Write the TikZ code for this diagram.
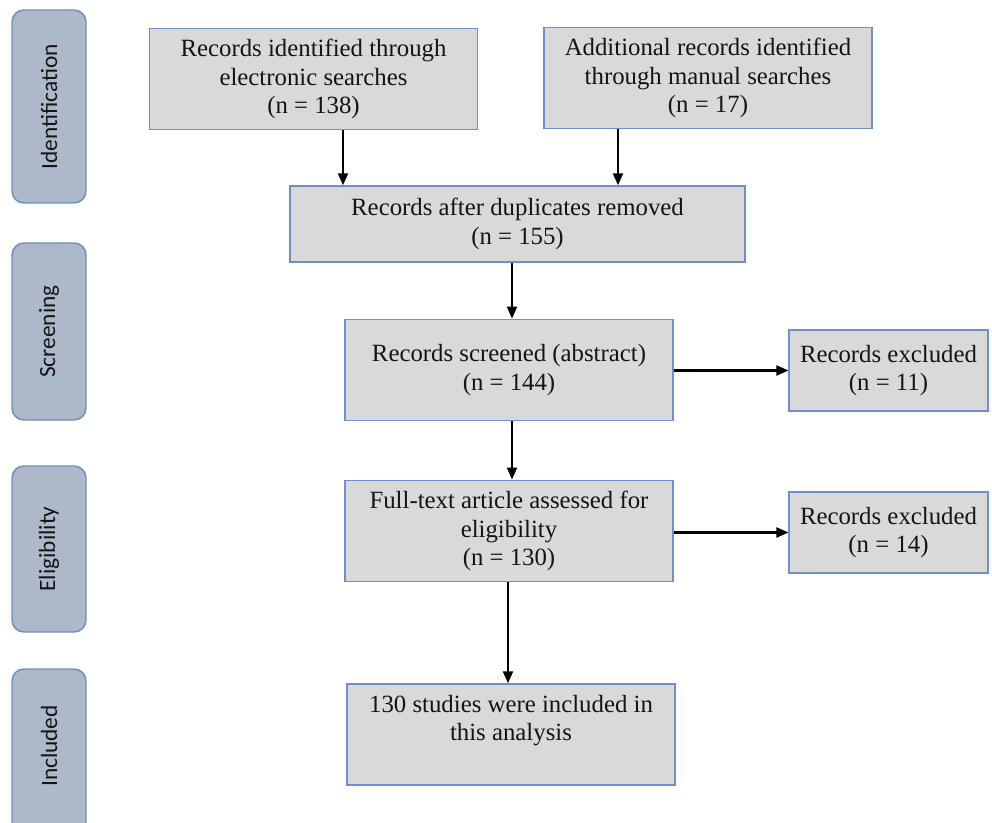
\documentclass[tikz,border=0pt]{standalone}
\usepackage{fontspec}
\setmainfont{Liberation Serif}
\newfontfamily\sidefont{Carlito}
\usetikzlibrary{arrows.meta}
\definecolor{boxfill}{HTML}{D9D9D9}
\definecolor{boxline}{HTML}{6E8FC8}
\definecolor{sidefill}{HTML}{ADB9CA}
\definecolor{sideline}{HTML}{6F8DBE}
\definecolor{txt}{HTML}{141414}
\tikzset{
  box/.style={draw=boxline, line width=1.1pt, fill=boxfill, align=center, text=txt,
    font=\fontsize{18.6}{21.3}\selectfont, inner sep=0pt},
  bigbox/.style={box, minimum width=246pt, minimum height=76pt},
  exbox/.style={box, minimum width=149pt, minimum height=60.75pt},
  side/.style={draw=sideline, line width=1.1pt, fill=sidefill, rounded corners=9pt},
  sidetext/.style={rotate=90, text=txt, font=\sidefont\fontsize{17.5}{20}\selectfont},
  arr/.style={line width=1.6pt, -{Triangle[length=9pt,width=7.5pt]}}
}
\begin{document}
\begin{tikzpicture}[x=0.75pt,y=-0.75pt]
\useasboundingbox (0,0) rectangle (992,823);
% side bars
\begin{scope}
\clip (0,0) rectangle (992,823);
\draw[side] (12,10) rectangle (86,203);
\draw[side] (12,243) rectangle (86,420);
\draw[side] (12,466) rectangle (86,632);
\draw[side] (12,669) rectangle (86,840);
\end{scope}
\node[sidetext] (sid) at (49,106.5) {Identification};
\node[sidetext] (sscr) at (49,331.5) {Screening};
\node[sidetext] (selig) at (49,549) {Eligibility};
\node[sidetext] (sinc) at (49,746) {Included};
% boxes
\node[bigbox, minimum height=75.75pt] (b1) at (313.5,79) {Records identified through\\electronic searches\\(n = 138)};
\node[bigbox] (b2) at (708,78) {Additional records identified\\through manual searches\\(n = 17)};
\node[box, minimum width=341.25pt, minimum height=57pt] (b3) at (517.5,224) {Records after duplicates removed\\(n = 155)};
\node[bigbox] (b4) at (509,370) {Records screened (abstract)\\(n = 144)};
\node[exbox] (e1) at (888.5,370.5) {Records excluded\\(n = 11)};
\node[bigbox] (b5) at (509,531) {Full-text article assessed for\\eligibility\\(n = 130)};
\node[exbox] (e2) at (888.5,532.5) {Records excluded\\(n = 14)};
\node[bigbox, minimum height=75.75pt] (b6) at (511,734.5) {130 studies were included in\\this analysis\\[-3pt]\strut};
% arrow columns
\coordinate (c1) at (343,0);
\coordinate (c2) at (618,0);
\coordinate (c3) at (512,0);
\coordinate (c4) at (508,0);
\draw[arr] (b1.south -| c1) -- (b3.north -| c1);
\draw[arr] (b2.south -| c2) -- (b3.north -| c2);
\draw[arr] (b3.south -| c3) -- (b4.north -| c3);
\draw[arr] (b4.south -| c3) -- (b5.north -| c3);
\draw[arr] (b5.south -| c4) -- (b6.north -| c4);
\draw[arr] (b4.east |- e1.west) -- (e1.west);
\draw[arr] (b5.east |- e2.west) -- (e2.west);
\end{tikzpicture}
\end{document}
